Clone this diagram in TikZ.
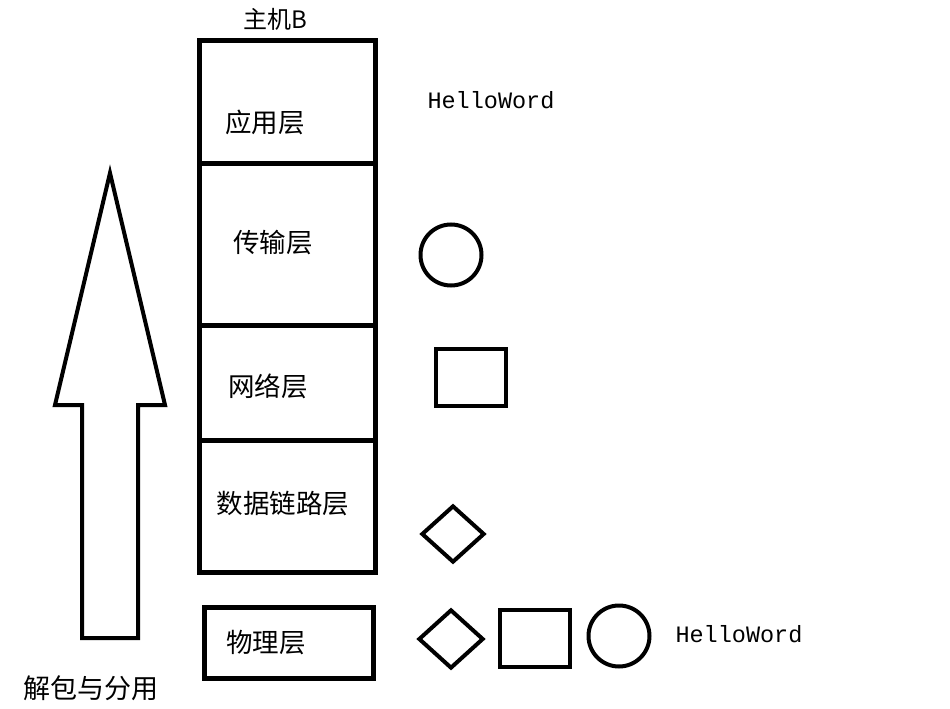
\documentclass[tikz,border=0pt]{standalone}
\usepackage{fontspec}
\setmainfont{Liberation Serif}
\newfontfamily\cjk{Noto Sans CJK SC}
\newfontfamily\monofnt{Liberation Mono}
\usetikzlibrary{shapes.geometric}
\begin{document}
\begin{tikzpicture}[x=1pt,y=-1pt,
  layerbox/.style={draw,line width=5pt,minimum width=176pt,inner sep=0pt,anchor=north west},
  lbl/.style={font=\cjk\fontsize{26.5}{28}\selectfont,inner sep=0pt},
  hello/.style={font=\monofnt\fontsize{23.5}{26}\selectfont,inner sep=0pt},
  shp/.style={draw,line width=4pt,inner sep=0pt}]
\useasboundingbox (0,0) rectangle (950,709);
% layer boxes
\node[layerbox,minimum height=123pt] (app) at (197,38) {};
\node[layerbox,minimum height=162pt] (trans) at (197,161) {};
\node[layerbox,minimum height=115pt] (net) at (197,323) {};
\node[layerbox,minimum height=132pt] (link) at (197,438) {};
\node[layerbox,minimum width=169pt,minimum height=71pt,line width=4.5pt] (phy) at (202,605) {};
% labels
\node[font=\cjk\fontsize{24}{26}\selectfont,inner sep=0pt] (host) at (275,19) {主机B};
\node[lbl] (lapp) at (265,122) {应用层};
\node[lbl] (ltrans) at (273,243) {传输层};
\node[lbl] (lnet) at (268,386) {网络层};
\node[lbl] (llink) at (283,504) {数据链路层};
\node[lbl] (lphy) at (266,643) {物理层};
% right column shapes
\node[hello] (h1) at (491,100) {HelloWord};
\node[shp,circle,minimum size=61pt] (c1) at (451,255) {};
\node[shp,rectangle,minimum width=70pt,minimum height=57pt] (s1) at (470.5,377) {};
\node[shp,diamond,minimum width=63pt,minimum height=57pt] (d1) at (453,534) {};
% bottom row
\node[shp,diamond,minimum width=65pt,minimum height=59pt] (d2) at (451,639) {};
\node[shp,rectangle,minimum width=70pt,minimum height=57pt] (s2) at (534.5,638) {};
\node[shp,circle,minimum size=61pt] (c2) at (619,636) {};
\node[hello] (h2) at (739,634) {HelloWord};
% big arrow
\draw[line width=4pt,line join=miter] (110,173) -- (165,405) -- (138,405) -- (138,638) -- (82,638) -- (82,405) -- (55,405) -- cycle;
\node[lbl,font=\cjk\fontsize{27}{28}\selectfont] (cap) at (91,688) {解包与分用};
\end{tikzpicture}
\end{document}
